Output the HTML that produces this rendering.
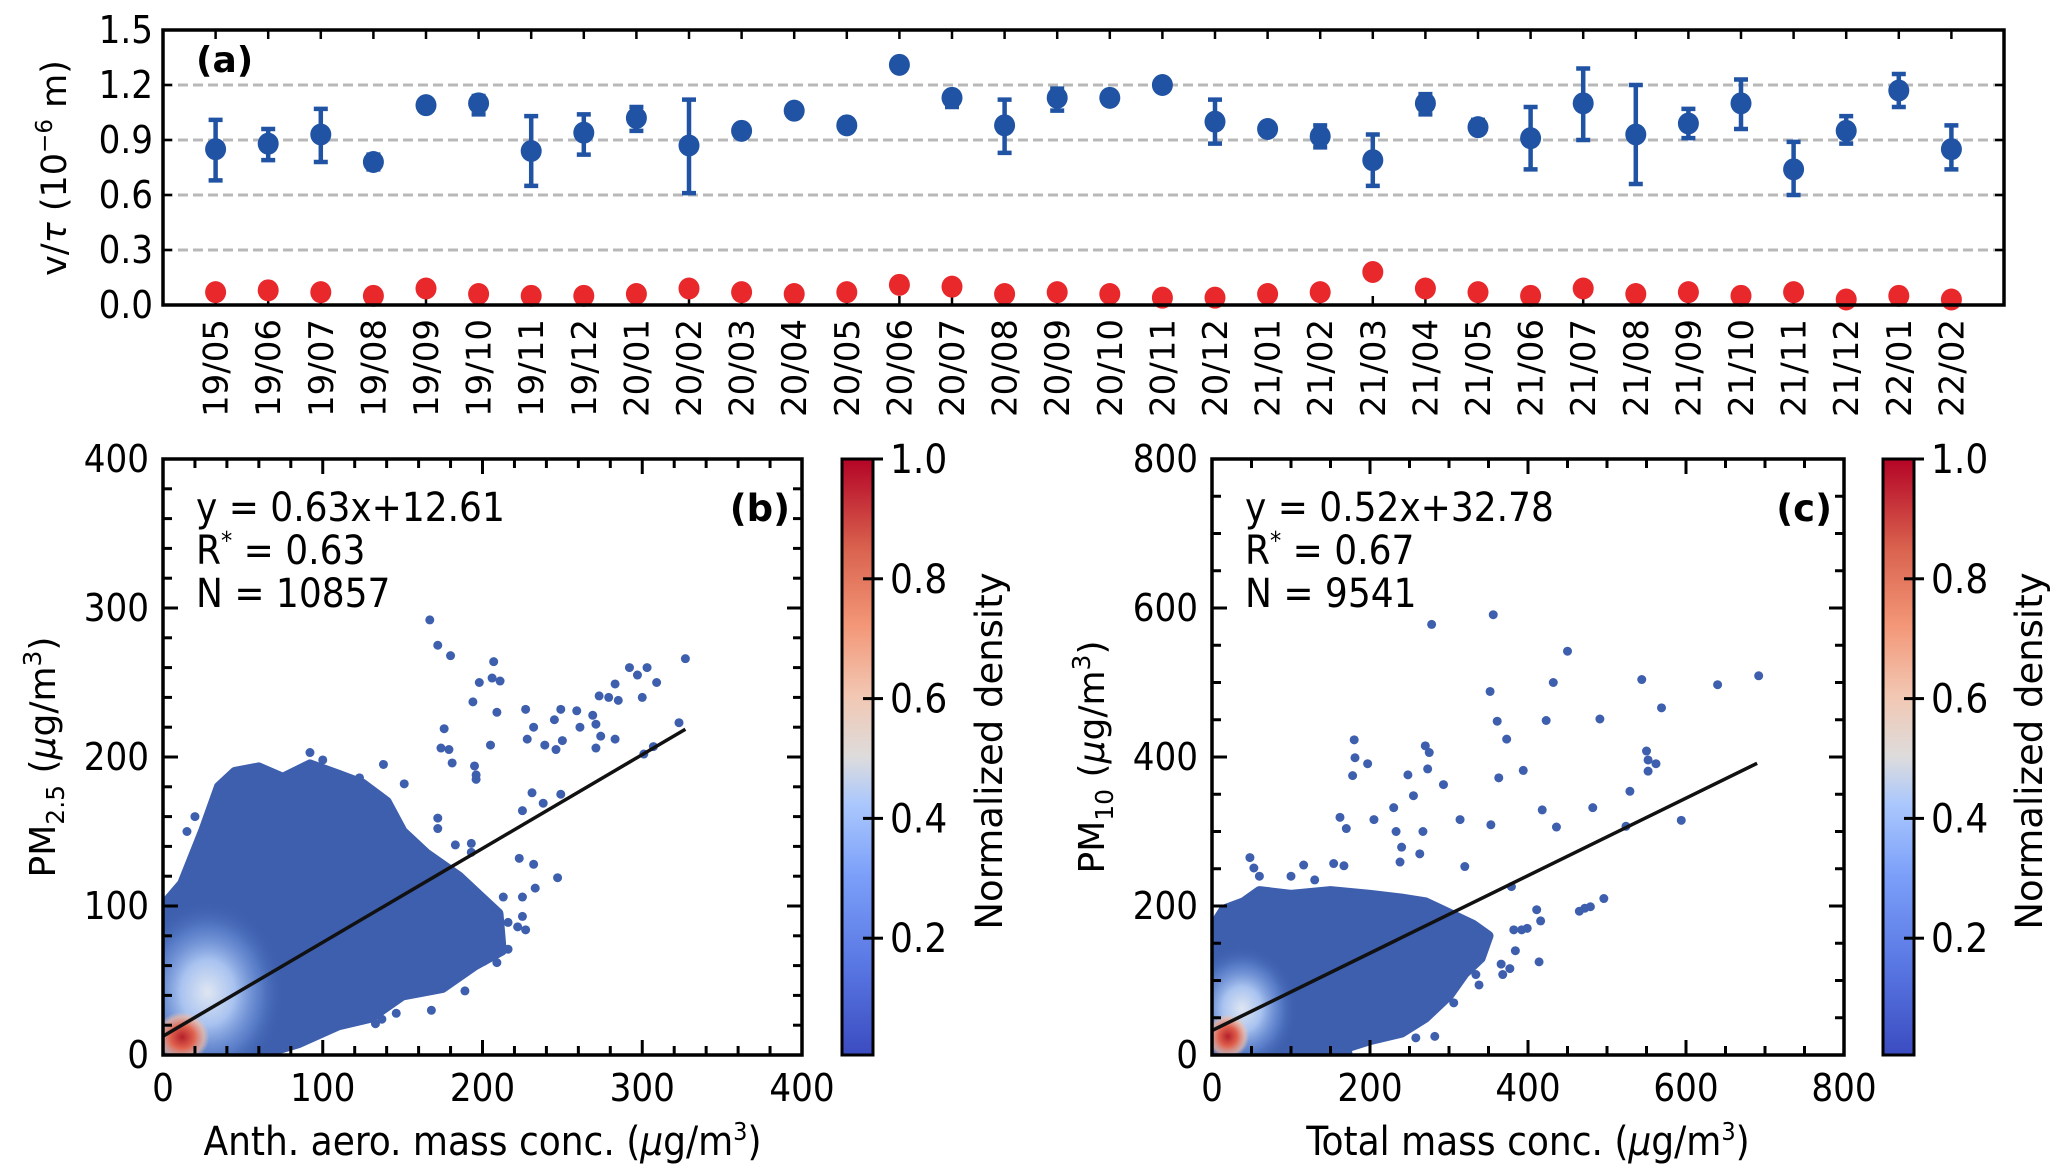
<!DOCTYPE html>
<html><head><meta charset="utf-8">
<style>
html,body{margin:0;padding:0;background:#fff;}
svg{display:block;font-family:"DejaVu Sans","Liberation Sans",sans-serif;}
.cond{font-family:"DejaVu Sans Condensed","DejaVu Sans","Liberation Sans",sans-serif;}
</style></head>
<body>
<svg id="fig" width="2067" height="1173" viewBox="0 0 2067 1173" xmlns="http://www.w3.org/2000/svg">
<defs>
<linearGradient id="cw" x1="0" y1="1" x2="0" y2="0">
<stop offset="0" stop-color="#3b4cc0"/><stop offset="0.15" stop-color="#5977e3"/>
<stop offset="0.3" stop-color="#7b9ff9"/><stop offset="0.42" stop-color="#aac7fd"/>
<stop offset="0.5" stop-color="#dddcdc"/><stop offset="0.6" stop-color="#f2c8b4"/>
<stop offset="0.72" stop-color="#f39778"/><stop offset="0.85" stop-color="#d9624e"/>
<stop offset="1" stop-color="#b40426"/></linearGradient>
<radialGradient id="light"><stop offset="0" stop-color="#dfe6f2"/><stop offset="0.35" stop-color="#a9c3f0"/><stop offset="0.7" stop-color="#6a8fd8" stop-opacity="0.6"/><stop offset="1" stop-color="#3d5fae" stop-opacity="0"/></radialGradient>
<radialGradient id="hot"><stop offset="0" stop-color="#b5202a"/><stop offset="0.45" stop-color="#e0634f"/><stop offset="0.8" stop-color="#f2b8a0" stop-opacity="0.7"/><stop offset="1" stop-color="#f2c8b4" stop-opacity="0"/></radialGradient>
</defs>
<g id="root"></g>
</svg>
<script>
// ---------- Panel (a) data ----------
const months = ["19/05","19/06","19/07","19/08","19/09","19/10","19/11","19/12","20/01","20/02","20/03","20/04","20/05","20/06","20/07","20/08","20/09","20/10","20/11","20/12","21/01","21/02","21/03","21/04","21/05","21/06","21/07","21/08","21/09","21/10","21/11","21/12","22/01","22/02"];
const blueMean = [0.85,0.88,0.93,0.78,1.09,1.10,0.84,0.94,1.02,0.87,0.95,1.06,0.98,1.31,1.13,0.98,1.13,1.13,1.20,1.00,0.96,0.92,0.79,1.10,0.97,0.91,1.10,0.93,0.99,1.10,0.74,0.95,1.17,0.85];
const blueLow  = [0.68,0.79,0.78,0.74,1.09,1.04,0.65,0.82,0.95,0.61,0.92,1.06,0.98,1.31,1.08,0.83,1.06,1.13,1.20,0.88,0.93,0.86,0.65,1.04,0.94,0.74,0.90,0.66,0.91,0.96,0.60,0.88,1.08,0.74];
const blueHigh = [1.01,0.96,1.07,0.82,1.09,1.14,1.03,1.04,1.08,1.12,0.98,1.06,0.98,1.31,1.16,1.12,1.18,1.13,1.20,1.12,0.99,0.98,0.93,1.15,1.01,1.08,1.29,1.20,1.07,1.23,0.89,1.03,1.26,0.98];
const redMean = [0.07,0.08,0.07,0.05,0.09,0.06,0.05,0.05,0.06,0.09,0.07,0.06,0.07,0.11,0.10,0.06,0.07,0.06,0.04,0.04,0.06,0.07,0.18,0.09,0.07,0.05,0.09,0.06,0.07,0.05,0.07,0.03,0.05,0.03];
const redLow  = [0.07,0.08,0.07,0.05,0.09,0.06,0.05,0.05,0.06,0.09,0.07,0.06,0.07,0.11,0.10,0.06,0.07,0.06,0.04,0.04,0.06,0.07,0.18,0.09,0.07,0.05,0.06,0.06,0.07,0.05,0.07,0.03,0.05,0.03];
const redHigh = [0.07,0.08,0.07,0.05,0.09,0.06,0.05,0.05,0.06,0.09,0.07,0.06,0.07,0.11,0.10,0.06,0.07,0.06,0.04,0.04,0.06,0.07,0.18,0.09,0.07,0.05,0.12,0.06,0.07,0.05,0.07,0.03,0.05,0.03];
const aTicks = [0.0,0.3,0.6,0.9,1.2,1.5];
const aTickLabels = ["0.0","0.3","0.6","0.9","1.2","1.5"];

// ---------- Panel (b) data ----------
const bTicks = [0,100,200,300,400];
const bFit = [0.63,12.61,327];
const bCore = [[0,0],[0,100],[12,115],[25,150],[35,180],[45,190],[60,193],[75,186],[92,195],[110,188],[125,182],[140,170],[150,150],[165,135],[185,120],[210,95],[212,70],[195,60],[175,45],[150,40],[130,25],[110,20],[85,8],[60,0]];
const bLight = [[28,42,48,62]];
const bHot = [[12,12,17,17]];
const bPoints = [[167,292],[172,275],[180,268],[207,264],[198,250],[211,251],[206,253],[194,237],[209,230],[176,219],[174,206],[179,205],[181,196],[195,194],[196,188],[196,185],[205,208],[227,232],[228,212],[232,220],[245,225],[249,232],[246,205],[250,211],[239,208],[259,231],[261,220],[269,228],[271,222],[271,206],[274,214],[283,212],[273,241],[279,240],[283,249],[285,238],[292,260],[297,255],[303,260],[309,250],[300,240],[323,223],[327,266],[301,202],[307,207],[249,175],[238,169],[225,164],[231,176],[172,159],[172,152],[183,141],[193,142],[193,136],[223,132],[232,128],[247,119],[233,112],[225,106],[213,106],[208,94],[216,89],[222,86],[225,93],[227,84],[216,71],[204,68],[209,62],[201,63],[183,96],[194,90],[183,74],[170,84],[166,71],[187,70],[189,43],[168,30],[150,46],[137,24],[133,21],[146,28],[138,195],[151,182],[123,186],[92,203],[160,120],[155,100],[140,60],[130,40],[120,30],[100,198],[20,160],[15,150]];

// ---------- Panel (c) data ----------
const cTicks = [0,200,400,600,800];
const cFit = [0.52,32.78,690];
const cCore = [[0,0],[0,170],[15,195],[40,205],[60,220],[100,215],[150,220],[200,215],[240,210],[270,205],[300,190],[330,175],[350,160],[340,130],[320,110],[300,80],[270,50],[240,30],[200,20],[170,10],[130,0]];
const cLight = [[38,62,70,85]];
const cHot = [[20,25,27,30]];
const cPoints = [[356,591],[278,578],[450,542],[544,504],[640,497],[692,509],[432,500],[352,488],[361,448],[423,449],[491,451],[569,466],[373,424],[550,408],[552,396],[552,381],[562,391],[394,382],[363,372],[293,363],[529,354],[418,329],[482,332],[436,306],[524,307],[594,315],[353,309],[314,316],[180,423],[181,399],[197,391],[178,375],[270,415],[275,406],[273,384],[248,376],[255,348],[230,332],[205,316],[162,319],[170,304],[233,300],[267,300],[240,279],[263,270],[238,259],[320,253],[154,257],[167,254],[116,255],[48,265],[53,251],[379,226],[496,210],[479,199],[472,197],[465,193],[411,195],[416,180],[414,125],[382,168],[392,168],[399,170],[384,140],[366,122],[377,116],[368,108],[334,108],[338,94],[306,70],[282,25],[258,23],[216,32],[172,3],[100,240],[130,235],[60,240]];
const cbTicks = [0.2,0.4,0.6,0.8,1.0];

const NS="http://www.w3.org/2000/svg";
const root=document.getElementById('root');
function mk(tag,attrs,parent,text){const e=document.createElementNS(NS,tag);for(const k in attrs)e.setAttribute(k,attrs[k]);if(text!==undefined)e.textContent=text;(parent||root).appendChild(e);return e;}

// ===== Panel (a) =====
const A={l:163,r:2004,t:30,b:305};
const ax=i=>A.l+(i+1)*(A.r-A.l)/35;
const ay=v=>A.b-(v/1.5)*(A.b-A.t);
const ga=mk('g',{});


aTicks.forEach((v,i)=>{
  if(v>0&&v<1.5){const gl=mk('line',{x1:A.l,x2:A.r,y1:ay(v),y2:ay(v),stroke:'#b8b8b8','stroke-width':3,'stroke-dasharray':'10,5'},ga);
  }
  mk('line',{x1:A.l,x2:A.l+9,y1:ay(v),y2:ay(v),stroke:'#000','stroke-width':2.5},ga);
  mk('line',{x1:A.r,x2:A.r-9,y1:ay(v),y2:ay(v),stroke:'#000','stroke-width':2.5},ga);
  const t=mk('text',{x:A.l-10,y:ay(v)+13,'text-anchor':'end','font-size':38,class:'cond'},ga,aTickLabels[i]);
  
});
months.forEach((m,i)=>{
  const x=ax(i);
  mk('line',{x1:x,x2:x,y1:A.t,y2:A.t+9,stroke:'#000','stroke-width':2.5},ga);
  mk('line',{x1:x,x2:x,y1:A.b,y2:A.b-9,stroke:'#000','stroke-width':2.5},ga);
  const t=mk('text',{x:0,y:0,transform:`translate(${x+12},${A.b+14}) rotate(-90)`,'text-anchor':'end','font-size':34},ga,m);
  
});
function series(mean,lo,hi,color,name){
  mean.forEach((v,i)=>{
    const x=ax(i);
    if(hi[i]-lo[i]>0.005){
      const e=mk('path',{d:`M${x},${ay(lo[i])}V${ay(hi[i])}M${x-7},${ay(lo[i])}H${x+7}M${x-7},${ay(hi[i])}H${x+7}`,stroke:color,'stroke-width':4.5,fill:'none'},ga);
      
    }
    const c=mk('ellipse',{cx:x,cy:ay(v),rx:10.5,ry:11,fill:color},ga);
    
  });
}
series(blueMean,blueLow,blueHigh,'#2053a3','blue-series');
series(redMean,redLow,redHigh,'#e8282b','red-series');
mk('rect',{x:A.l,y:A.t,width:A.r-A.l,height:A.b-A.t,fill:'none',stroke:'#000','stroke-width':3.5},ga);
const la=mk('text',{x:196,y:72,'font-size':36,'font-weight':'bold'},ga,'(a)');

const ya=mk('text',{transform:'translate(66,168) rotate(-90)','text-anchor':'middle','font-size':35},ga);

ya.innerHTML='v/<tspan font-style="italic">τ</tspan> (10<tspan font-size="23" dy="-14">−6</tspan><tspan dy="14"> m)</tspan>';

// ===== Scatter panels =====
function scatter(P,ticks,xmax,minor,core,light,hot,pts,fit,name,label,ann,ylab,xlab,cb){
  const g=mk('g',{});
  
  const sx=v=>P.l+v/xmax*(P.r-P.l), sy=v=>P.b-v/xmax*(P.b-P.t);
  const clip='clip-'+name;
  const cp=mk('clipPath',{id:clip},g);mk('rect',{x:P.l,y:P.t,width:P.r-P.l,height:P.b-P.t},cp);
  const pg=mk('g',{'clip-path':`url(#${clip})`},g);
  const poly=mk('polygon',{points:core.map(p=>sx(p[0])+','+sy(p[1])).join(' '),fill:'#3d5fae',stroke:'#3d5fae','stroke-width':10,'stroke-linejoin':'round'},pg);
  
  light.forEach(b=>{const e=mk('ellipse',{cx:sx(b[0]),cy:sy(b[1]),rx:b[2]/xmax*(P.r-P.l),ry:b[3]/xmax*(P.b-P.t),fill:'url(#light)'},pg);
    });
  hot.forEach(b=>{const e=mk('ellipse',{cx:sx(b[0]),cy:sy(b[1]),rx:b[2]/xmax*(P.r-P.l),ry:b[3]/xmax*(P.b-P.t),fill:'url(#hot)'},pg);
    });
  pts.forEach(p=>{const c=mk('circle',{cx:sx(p[0]),cy:sy(p[1]),r:4.5,fill:'#3d5fae'},pg);
    });
  const fl=mk('line',{x1:sx(0),y1:sy(fit[1]),x2:sx(fit[2]),y2:sy(fit[0]*fit[2]+fit[1]),stroke:'#111','stroke-width':3.5},g);
  
  for(let v=0;v<=xmax+0.01;v+=minor){
    const major=Math.abs(v/(xmax/4)-Math.round(v/(xmax/4)))<1e-6, L=major?15:9;
    mk('line',{x1:sx(v),x2:sx(v),y1:P.b,y2:P.b-L,stroke:'#000','stroke-width':3},g);
    mk('line',{x1:sx(v),x2:sx(v),y1:P.t,y2:P.t+L,stroke:'#000','stroke-width':3},g);
    mk('line',{x1:P.l,x2:P.l+L,y1:sy(v),y2:sy(v),stroke:'#000','stroke-width':3},g);
    mk('line',{x1:P.r,x2:P.r-L,y1:sy(v),y2:sy(v),stroke:'#000','stroke-width':3},g);
  }
  ticks.forEach(v=>{
    const tx=mk('text',{x:sx(v),y:P.b+46,'text-anchor':'middle','font-size':38,class:'cond'},g,String(v));
    
    const ty=mk('text',{x:P.l-14,y:sy(v)+13,'text-anchor':'end','font-size':38,class:'cond'},g,String(v));
    
  });
  mk('rect',{x:P.l,y:P.t,width:P.r-P.l,height:P.b-P.t,fill:'none',stroke:'#000','stroke-width':3.5},g);
  ann.forEach((s,i)=>{const t=mk('text',{x:P.l+33,y:P.t+62+i*43,'font-size':40,class:'cond'},g);t.innerHTML=s;
    });
  const pl=mk('text',{x:P.r-12,y:P.t+62,'text-anchor':'end','font-size':37,'font-weight':'bold'},g,label);
  
  const yl=mk('text',{transform:`translate(${P.l-108},${(P.t+P.b)/2}) rotate(-90)`,'text-anchor':'middle','font-size':36},g);yl.innerHTML=ylab;
  
  const xl=mk('text',{x:(P.l+P.r)/2,y:P.b+100,'text-anchor':'middle','font-size':40,class:'cond'},g);xl.innerHTML=xlab;
  
  // colorbar
  const cbr=mk('rect',{x:cb.l,y:P.t,width:cb.w,height:P.b-P.t,fill:'url(#cw)',stroke:'#000','stroke-width':3},g);
  
  const cy=v=>P.b-(v-0.005)/(0.995)*(P.b-P.t);
  cbTicks.forEach(v=>{
    mk('line',{x1:cb.l+cb.w,x2:cb.l+cb.w+10,y1:cy(v),y2:cy(v),stroke:'#000','stroke-width':3},g);
    mk('line',{x1:cb.l+cb.w,x2:cb.l+cb.w-10,y1:cy(v),y2:cy(v),stroke:'#000','stroke-width':3},g);
    const t=mk('text',{x:cb.l+cb.w+17,y:cy(v)+14,'font-size':40,class:'cond'},g,v.toFixed(1));
    
  });
  const ct=mk('text',{transform:`translate(${cb.lab},${(P.t+P.b)/2-6}) rotate(-90)`,'text-anchor':'middle','font-size':37},g,'Normalized density');
  
}
scatter({l:163,r:802,t:459,b:1055},bTicks,400,20,bCore,bLight,bHot,bPoints,bFit,'panel-b','(b)',
 ['y = 0.63x+12.61','R<tspan font-size="25" dy="-15">*</tspan><tspan dy="15"> = 0.63</tspan>','N = 10857'],
 'PM<tspan font-size="25" dy="9">2.5</tspan><tspan dy="-9"> (</tspan><tspan font-style="italic">μ</tspan>g/m<tspan font-size="25" dy="-14">3</tspan><tspan dy="14">)</tspan>',
 'Anth. aero. mass conc. (<tspan font-style="italic">μ</tspan>g/m<tspan font-size="25" dy="-15">3</tspan><tspan dy="15">)</tspan>',
 {l:842,w:31,lab:1002});
scatter({l:1212,r:1844,t:459,b:1055},cTicks,800,50,cCore,cLight,cHot,cPoints,cFit,'panel-c','(c)',
 ['y = 0.52x+32.78','R<tspan font-size="25" dy="-15">*</tspan><tspan dy="15"> = 0.67</tspan>','N = 9541'],
 'PM<tspan font-size="25" dy="9">10</tspan><tspan dy="-9"> (</tspan><tspan font-style="italic">μ</tspan>g/m<tspan font-size="25" dy="-14">3</tspan><tspan dy="14">)</tspan>',
 'Total mass conc. (<tspan font-style="italic">μ</tspan>g/m<tspan font-size="25" dy="-15">3</tspan><tspan dy="15">)</tspan>',
 {l:1883,w:31,lab:2042});
</script>
</body></html>
